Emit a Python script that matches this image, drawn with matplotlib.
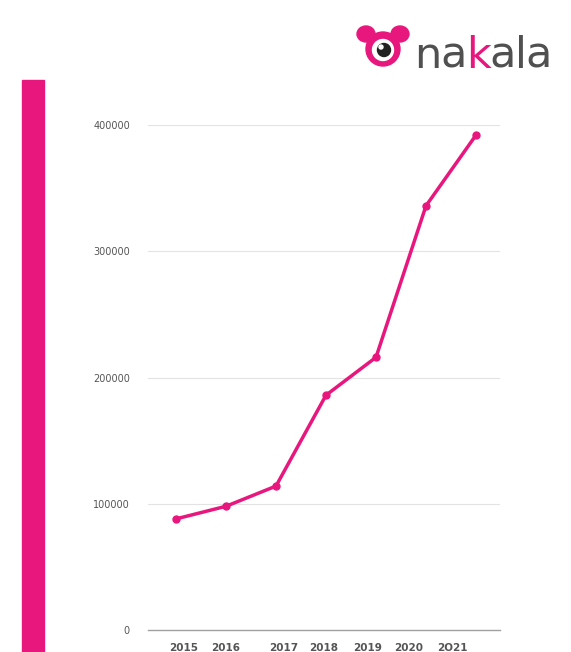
import matplotlib.pyplot as plt
from matplotlib.patches import Rectangle, Circle, Ellipse

years = ['2015', '2016', '2017', '2018', '2019', '2020', '2O21']
values = [88000, 98000, 114000, 186000, 216000, 336000, 392000]
yticks = [0, 100000, 200000, 300000, 400000]

pink = '#E8177D'
grey = '#555555'

# year labels sit a bit off the points in the original
label_pos = [0.16, 1.0, 2.16, 2.96, 3.84, 4.66, 5.52]

fig = plt.figure(figsize=(5.71, 6.52), dpi=100)
ax = fig.add_axes([148 / 571, 22 / 652, 352 / 571, 505 / 652])

ax.plot(range(len(values)), values, color=pink, lw=2.5, marker='o', ms=5,
        solid_capstyle='round', clip_on=False, zorder=3)

ax.set_xlim(-0.56, 6.48)
ax.set_ylim(0, 400000)
ax.set_yticks(yticks)
ax.set_yticklabels([str(v) for v in yticks], fontsize=7, color=grey)
ax.tick_params(axis='y', length=0, pad=13)
ax.set_xticks([])
for v in yticks[1:]:
    ax.axhline(v, color='#e3e3e3', lw=0.8, zorder=1)
ax.axhline(0, color='#a0a0a0', lw=1.0, zorder=2, clip_on=False)
for s in ax.spines.values():
    s.set_visible(False)

for pos, lab in zip(label_pos, years):
    ax.text(pos, -10500, lab, ha='center', va='top', fontsize=7.5,
            color=grey, fontweight='bold')

# pink bar on the left
fig.patches.append(Rectangle((22 / 571, 0), 22 / 571, 572 / 652,
                             transform=fig.transFigure, color=pink))

# logo
lax = fig.add_axes([0, 0, 1, 1], facecolor='none')
lax.set_xlim(0, 571)
lax.set_ylim(652, 0)
lax.axis('off')
lax.add_patch(Ellipse((366, 34), 18, 16, color=pink))
lax.add_patch(Ellipse((400, 34), 18, 16, color=pink))
lax.add_patch(Circle((383, 49), 17, color=pink))
lax.add_patch(Circle((383, 50), 10.5, color='white'))
lax.add_patch(Circle((384, 50), 6.5, color='#222222'))
lax.add_patch(Circle((381, 47), 2, color='white'))

renderer = fig.canvas.get_renderer()
x = 414
for ch in 'nakala':
    t = lax.text(x, 68, ch, fontsize=31, color=pink if ch == 'k' else '#505050',
                 family='DejaVu Sans', ha='left', va='baseline')
    bb = t.get_window_extent(renderer)
    x += bb.width - 1

fig.savefig('out.png', dpi=100)
